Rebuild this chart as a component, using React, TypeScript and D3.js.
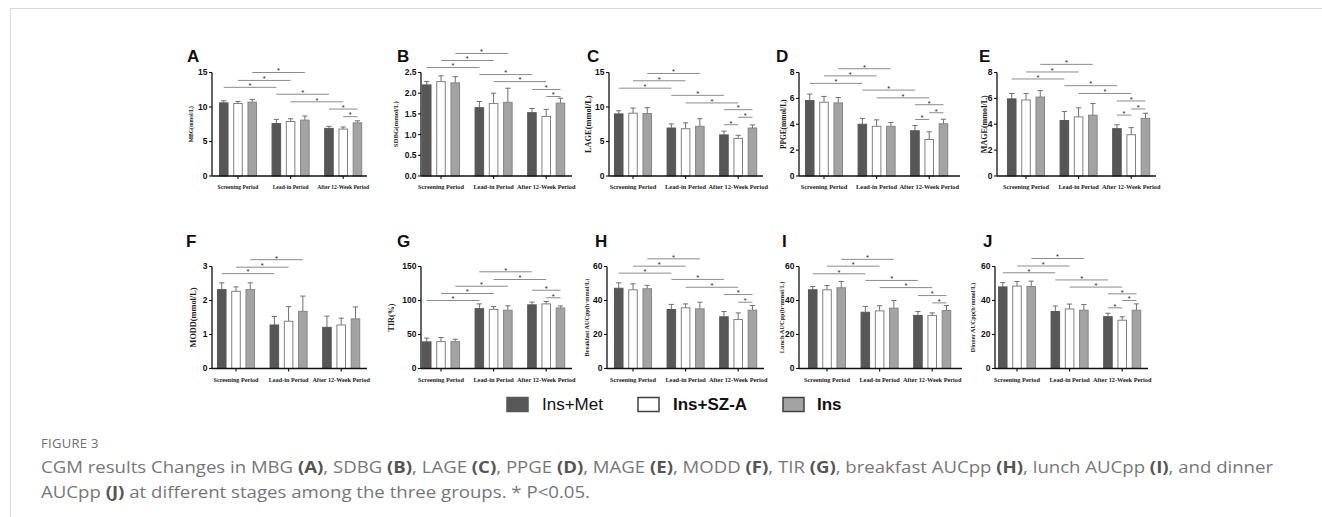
import React from "react";
import * as d3 from "d3";

const groups = ["Screening Period", "Lead-in Period", "After 12-Week Period"];
const seriesNames = ["Ins+Met", "Ins+SZ-A", "Ins"];

// values per period, in series order [Ins+Met, Ins+SZ-A, Ins]
const mbgMean = [[10.6, 10.5, 10.7], [7.6, 7.9, 8.1], [6.9, 6.8, 7.7]];
const mbgErr = [[0.3, 0.3, 0.4], [0.6, 0.4, 0.6], [0.3, 0.3, 0.3]];
const sdbgMean = [[2.2, 2.28, 2.25], [1.65, 1.75, 1.78], [1.53, 1.44, 1.76]];
const sdbgErr = [[0.08, 0.14, 0.15], [0.15, 0.25, 0.34], [0.1, 0.17, 0.12]];
const lageMean = [[9.0, 9.1, 9.05], [6.95, 6.85, 7.2], [5.95, 5.45, 6.95]];
const lageErr = [[0.45, 0.75, 0.85], [0.6, 0.85, 1.1], [0.55, 0.45, 0.45]];
const ppgeMean = [[5.83, 5.7, 5.65], [4.0, 3.84, 3.84], [3.5, 2.82, 4.04]];
const ppgeErr = [[0.5, 0.45, 0.42], [0.45, 0.5, 0.3], [0.4, 0.6, 0.35]];
const mageMean = [[5.96, 5.88, 6.1], [4.29, 4.57, 4.7], [3.66, 3.19, 4.45]];
const mageErr = [[0.42, 0.5, 0.5], [0.7, 0.7, 0.9], [0.3, 0.55, 0.4]];
const moddMean = [[2.32, 2.27, 2.32], [1.28, 1.39, 1.68], [1.21, 1.28, 1.46]];
const moddErr = [[0.2, 0.13, 0.2], [0.25, 0.43, 0.45], [0.33, 0.2, 0.35]];
const tirMean = [[39.2, 39.5, 39.5], [88, 87, 85.7], [93.6, 95, 89]];
const tirErr = [[5.5, 6, 3.5], [7, 4, 6.5], [4, 3.5, 3]];
const bfMean = [[47.2, 46.3, 46.9], [34.7, 35.7, 35.1], [30.4, 28.8, 34.3]];
const bfErr = [[3.2, 3.5, 2], [3, 2.3, 3.9], [3.1, 3.9, 2.7]];
const lunchMean = [[46.3, 46.3, 47.5], [33.1, 33.9, 35.5], [31.2, 31.2, 34.1]];
const lunchErr = [[1.9, 2.5, 3.7], [3.4, 3, 4.5], [2.3, 1.5, 2.9]];
const dinnerMean = [[48, 48.5, 48.2], [33.5, 35, 34.3], [30.5, 28.4, 34.3]];
const dinnerErr = [[2.5, 2.7, 3.2], [3.3, 2.9, 3.3], [2, 2, 3.7]];

// significance brackets: [period1, series1, period2, series2, height in data units]
const mbgSig = [[0, 2, 1, 2, 15.0], [0, 1, 1, 1, 13.85], [0, 0, 1, 0, 12.85], [1, 0, 2, 0, 11.85], [1, 1, 2, 1, 10.75], [2, 0, 2, 2, 9.7], [2, 1, 2, 2, 8.6]];
const sdbgSig = [[0, 2, 1, 2, 2.96], [0, 1, 1, 1, 2.79], [0, 0, 1, 0, 2.62], [1, 0, 2, 0, 2.45], [1, 1, 2, 1, 2.28], [2, 0, 2, 2, 2.09], [2, 1, 2, 2, 1.92]];
const lageSig = [[0, 2, 1, 2, 14.86], [0, 1, 1, 1, 13.8], [0, 0, 1, 0, 12.73], [1, 0, 2, 0, 11.69], [1, 1, 2, 1, 10.59], [2, 0, 2, 2, 9.61], [2, 1, 2, 2, 8.51], [2, 0, 2, 1, 7.43]];
const ppgeSig = [[0, 2, 1, 2, 8.29], [0, 1, 1, 1, 7.74], [0, 0, 1, 0, 7.16], [1, 0, 2, 0, 6.64], [1, 1, 2, 1, 6.04], [2, 0, 2, 2, 5.51], [2, 1, 2, 2, 4.89], [2, 0, 2, 1, 4.37]];
const mageSig = [[0, 2, 1, 2, 8.63], [0, 1, 1, 1, 8.04], [0, 0, 1, 0, 7.5], [1, 0, 2, 0, 6.98], [1, 1, 2, 1, 6.38], [2, 0, 2, 2, 5.8], [2, 1, 2, 2, 5.18], [2, 0, 2, 1, 4.71]];
const moddSig = [[0, 2, 1, 2, 3.2], [0, 1, 1, 1, 2.98], [0, 0, 1, 0, 2.79]];
const tirSig = [[1, 0, 2, 0, 142.2], [1, 1, 2, 1, 130.9], [0, 2, 1, 2, 121], [0, 1, 1, 1, 110.3], [0, 0, 1, 0, 100], [2, 0, 2, 2, 115.1], [2, 1, 2, 2, 104]];
const bfSig = [[0, 2, 1, 2, 64.5], [0, 1, 1, 1, 60.2], [0, 0, 1, 0, 56.1], [1, 0, 2, 0, 52.4], [1, 1, 2, 1, 47.8], [2, 0, 2, 2, 43.5], [2, 1, 2, 2, 39]];
const lunchSig = [[0, 2, 1, 2, 64.2], [0, 1, 1, 1, 60.2], [0, 0, 1, 0, 55.7], [1, 0, 2, 0, 51.8], [1, 1, 2, 1, 47.6], [2, 0, 2, 2, 42.9], [2, 1, 2, 2, 38.6]];
const dinnerSig = [[0, 2, 1, 2, 64.7], [0, 1, 1, 1, 60.3], [0, 0, 1, 0, 56.3], [1, 0, 2, 0, 52.1], [1, 1, 2, 1, 47.9], [2, 0, 2, 2, 43.9], [2, 1, 2, 2, 40], [2, 0, 2, 1, 35.7]];

const panels = [
  { letter: "A", title: "MBG(mmol/L)", mean: mbgMean, err: mbgErr, sig: mbgSig, ticks: [0, 5, 10, 15], fmt: "d" },
  { letter: "B", title: "SDBG(mmol/L)", mean: sdbgMean, err: sdbgErr, sig: sdbgSig, ticks: [0, 0.5, 1, 1.5, 2, 2.5], fmt: ".1f" },
  { letter: "C", title: "LAGE(mmol/L)", mean: lageMean, err: lageErr, sig: lageSig, ticks: [0, 5, 10, 15], fmt: "d" },
  { letter: "D", title: "PPGE(mmol/L)", mean: ppgeMean, err: ppgeErr, sig: ppgeSig, ticks: [0, 2, 4, 6, 8], fmt: "d" },
  { letter: "E", title: "MAGE(mmol/L)", mean: mageMean, err: mageErr, sig: mageSig, ticks: [0, 2, 4, 6, 8], fmt: "d" },
  { letter: "F", title: "MODD(mmol/L)", mean: moddMean, err: moddErr, sig: moddSig, ticks: [0, 1, 2, 3], fmt: "d" },
  { letter: "G", title: "TIR(%)", mean: tirMean, err: tirErr, sig: tirSig, ticks: [0, 50, 100, 150], fmt: "d" },
  { letter: "H", title: "Breakfast AUCpp(h·mmol/L)", mean: bfMean, err: bfErr, sig: bfSig, ticks: [0, 20, 40, 60], fmt: "d" },
  { letter: "I", title: "Lunch AUCpp(h·mmol/L)", mean: lunchMean, err: lunchErr, sig: lunchSig, ticks: [0, 20, 40, 60], fmt: "d" },
  { letter: "J", title: "Dinner AUCpp(h·mmol/L)", mean: dinnerMean, err: dinnerErr, sig: dinnerSig, ticks: [0, 20, 40, 60], fmt: "d" },
];

// where each small panel sits on the page
const layout: Record<string, any> = {
  A: { x0: 212, x1: 367, first: 26, row: 0, lx: 187, tx: 191, ts: 5.6, ls: 5.6 },
  B: { x0: 421, x1: 572, first: 20, row: 0, lx: 397, tx: 396, ts: 6.8, ls: 6.3 },
  C: { x0: 609, x1: 763, first: 24, row: 0, lx: 587, tx: 588, ts: 8.4, ls: 6.4 },
  D: { x0: 799, x1: 960, first: 25, row: 0, lx: 776, tx: 783, ts: 7.4, ls: 6.4 },
  E: { x0: 997, x1: 1156, first: 29, row: 0, lx: 979, tx: 984, ts: 8.1, ls: 6.3 },
  F: { x0: 212, x1: 367, first: 24, row: 1, lx: 186, tx: 193, ts: 8.3, ls: 6.2 },
  G: { x0: 421, x1: 572, first: 20, row: 1, lx: 397, tx: 391, ts: 8.1, ls: 6.3 },
  H: { x0: 607, x1: 764, first: 26, row: 1, lx: 595, tx: 587, ts: 6.2, ls: 6.3 },
  I: { x0: 799, x1: 962, first: 28, row: 1, lx: 782, tx: 782, ts: 6.4, ls: 6.3 },
  J: { x0: 995, x1: 1148, first: 22, row: 1, lx: 983, tx: 973, ts: 6.1, ls: 6.3 },
};
const rows = [
  { top: 72.5, zero: 176, letterY: 61.5 },
  { top: 266.5, zero: 368.5, letterY: 247 },
];

const fills = ["#575757", "#ffffff", "#a3a3a3"];
const strokes = ["#575757", "#808080", "#858585"];
const serif = "'Liberation Serif', 'Times New Roman', serif";
const sans = "'Liberation Sans', Arial, sans-serif";
const step = 52.6;

function Panel({ p }: { p: any }) {
  const L = layout[p.letter];
  const R = rows[L.row];
  const max = p.ticks[p.ticks.length - 1];
  const y = d3.scaleLinear().domain([0, max]).range([R.zero, R.top]);
  const xg = d3.scaleBand().domain(groups).range([L.x0 + L.first - step / 2, L.x0 + L.first + step * 2.5]).paddingInner(0);
  const xs = d3.scaleBand().domain(seriesNames).range([0, step]).paddingInner(0.33).paddingOuter(0.51);
  const bw = xs.bandwidth();
  const cx = (g: number, s: number) => (xg(groups[g]) as number) + (xs(seriesNames[s]) as number) + bw / 2;
  const fmt = d3.format(p.fmt);
  const midY = (R.zero + R.top) / 2;

  return (
    <g>
      <text x={L.lx} y={R.letterY} fontFamily={sans} fontWeight="bold" fontSize={17} fill="#111">{p.letter}</text>
      <text transform={`translate(${L.tx},${midY}) rotate(-90)`} textAnchor="middle" dy="0.35em"
        fontFamily={serif} fontWeight="bold" fontSize={L.ts} fill="#222">{p.title}</text>

      {groups.map((gname, g) =>
        seriesNames.map((sname, s) => {
          const v = p.mean[g][s];
          const e = p.err[g][s];
          const x = cx(g, s);
          return (
            <g key={gname + sname}>
              <line x1={x} x2={x} y1={y(v)} y2={y(v + e)} stroke="#707070" strokeWidth={1} />
              <line x1={x - 2.6} x2={x + 2.6} y1={y(v + e)} y2={y(v + e)} stroke="#707070" strokeWidth={1} />
              <rect x={x - bw / 2 + 0.5} y={y(v)} width={bw - 1} height={R.zero - y(v)}
                fill={fills[s]} stroke={strokes[s]} strokeWidth={1} />
            </g>
          );
        })
      )}

      {p.sig.map((c: number[], i: number) => {
        const xa = cx(c[0], c[1]);
        const xb = cx(c[2], c[3]);
        const yy = y(c[4]);
        return (
          <g key={"s" + i}>
            <line x1={xa} x2={xb} y1={yy} y2={yy} stroke="#8c8c8c" strokeWidth={1} />
            <text x={(xa + xb) / 2} y={yy + 0.8} textAnchor="middle" fontFamily={sans} fontSize={7.5} fill="#222">*</text>
          </g>
        );
      })}

      {/* y axis */}
      <line x1={L.x0} x2={L.x0} y1={R.top} y2={R.zero} stroke="#111" strokeWidth={1.3} />
      {p.ticks.map((t: number) => (
        <g key={"t" + t}>
          <line x1={L.x0 - 3} x2={L.x0} y1={y(t)} y2={y(t)} stroke="#111" strokeWidth={1.1} />
          <text x={L.x0 - 4.5} y={y(t)} dy="0.35em" textAnchor="end" fontFamily={sans} fontWeight="bold" fontSize={8.5} fill="#111">{fmt(t)}</text>
        </g>
      ))}
      {/* x axis */}
      <line x1={L.x0} x2={L.x1} y1={R.zero} y2={R.zero} stroke="#111" strokeWidth={1.3} />
      {groups.map((gname) => {
        const gx = (xg(gname) as number) + step / 2;
        return (
          <g key={"x" + gname}>
            <line x1={gx} x2={gx} y1={R.zero} y2={R.zero + 3} stroke="#111" strokeWidth={1.1} />
            <text x={gx} y={R.zero + 13} textAnchor="middle" fontFamily={serif} fontWeight="bold" fontSize={L.ls} fill="#222">{gname}</text>
          </g>
        );
      })}
    </g>
  );
}

const legendX = [507, 638, 783];
const legendTextX = [542, 673, 817];
const legendWeight = ["normal", "bold", "bold"];

const captionLine1 = [
  ["CGM results Changes in MBG ", false], ["(A)", true], [", SDBG ", false], ["(B)", true], [", LAGE ", false], ["(C)", true],
  [", PPGE ", false], ["(D)", true], [", MAGE ", false], ["(E)", true], [", MODD ", false], ["(F)", true], [", TIR ", false], ["(G)", true],
  [", breakfast AUCpp ", false], ["(H)", true], [", lunch AUCpp ", false], ["(I)", true], [", and dinner", false],
];
const captionLine2 = [["AUCpp ", false], ["(J)", true], [" at different stages among the three groups. * P<0.05.", false]];

export default function App() {
  const capFont = "'Open Sans', 'Noto Sans', sans-serif";
  return (
    <svg width={1322} height={517} style={{ position: "absolute", left: 0, top: 0, background: "#fff" }}>
      <rect width={1322} height={517} fill="#fff" />
      <line x1={10} x2={1322} y1={8.5} y2={8.5} stroke="#d9d9d9" strokeWidth={1} />
      <line x1={10.5} x2={10.5} y1={8} y2={517} stroke="#d9d9d9" strokeWidth={1} />

      {panels.map((p) => <Panel key={p.letter} p={p} />)}

      {seriesNames.map((s, i) => (
        <g key={s}>
          <rect x={legendX[i]} y={397.5} width={21} height={14} fill={fills[i]} stroke={i === 0 ? fills[0] : "#404040"} strokeWidth={1.5} />
          <text x={legendTextX[i]} y={410} fontFamily={sans} fontWeight={legendWeight[i]} fontSize={17} fill="#111">{s}</text>
        </g>
      ))}

      <text x={41} y={448} fontFamily={capFont} fontSize={13} fill="#6e6e6e" letterSpacing={0.3}>FIGURE 3</text>
      <text x={41} y={473} fontFamily={capFont} fontSize={16} fill="#777" textLength={1232} lengthAdjust="spacingAndGlyphs">
        {captionLine1.map(([t, b], i) => (
          <tspan key={i} fontWeight={b ? "bold" : "normal"} fill={b ? "#555" : "#777"}>{t as string}</tspan>
        ))}
      </text>
      <text x={41} y={498} fontFamily={capFont} fontSize={16} fill="#777" textLength={549} lengthAdjust="spacingAndGlyphs">
        {captionLine2.map(([t, b], i) => (
          <tspan key={i} fontWeight={b ? "bold" : "normal"} fill={b ? "#555" : "#777"}>{t as string}</tspan>
        ))}
      </text>
    </svg>
  );
}
